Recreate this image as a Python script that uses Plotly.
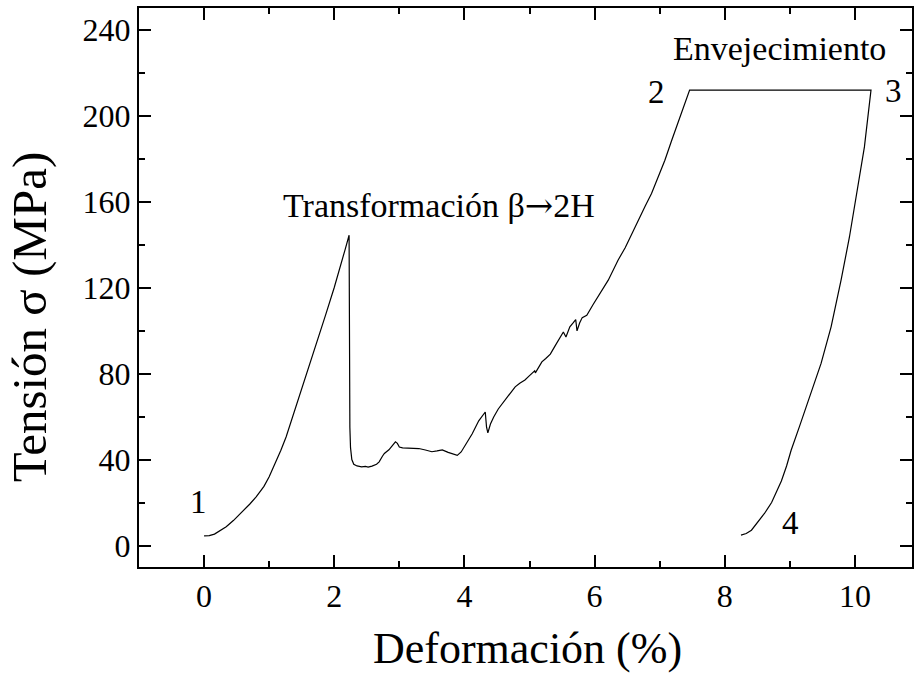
import plotly.graph_objects as go

# Strain (%) and stress (MPa)
strain = [0.00, 0.08, 0.16, 0.25, 0.34, 0.45, 0.59, 0.70, 0.80, 0.92, 1.00, 1.09, 1.18, 1.26,
          1.33, 1.41, 1.56, 1.70, 1.87, 2.00, 2.07, 2.17, 2.228,
          2.231, 2.234, 2.24, 2.25, 2.27, 2.30, 2.35, 2.42, 2.48, 2.52, 2.58, 2.65, 2.69, 2.74,
          2.77, 2.84, 2.90, 2.94, 2.97, 3.00, 3.05, 3.15, 3.30, 3.40, 3.50, 3.58, 3.66, 3.75,
          3.89, 3.95, 4.02, 4.12, 4.22, 4.32, 4.34, 4.36, 4.40, 4.45, 4.52, 4.58, 4.65, 4.71,
          4.78, 4.85, 4.93, 5.00, 5.08, 5.09, 5.14, 5.19, 5.25, 5.32, 5.40, 5.46, 5.52, 5.56,
          5.62, 5.67, 5.71, 5.73, 5.77, 5.81, 5.88, 5.98, 6.10, 6.21, 6.36, 6.47, 6.59, 6.67,
          6.78, 6.875, 6.98, 7.08, 7.18, 7.28, 7.37, 7.46,
          8.50, 10.247,
          10.146, 10.04, 9.916, 9.787, 9.634, 9.48, 9.275, 9.15, 9.02, 8.95, 8.87, 8.80, 8.72,
          8.61, 8.50, 8.41, 8.33, 8.25]
stress = [4.5, 4.6, 5.3, 6.8, 8.7, 11.6, 15.6, 19.2, 22.6, 27.5, 32.0, 38.0, 44.3, 50.5,
          57.0, 64.5, 78.0, 91.0, 107.5, 120.0, 127.0, 138.0, 144.3,
          120.0, 80.0, 55.0, 45.5, 40.0, 37.8, 37.0, 36.6, 36.8, 36.5, 36.9, 37.8, 38.9, 41.5,
          42.8, 44.5, 46.5, 48.2, 47.5, 45.8, 45.4, 45.2, 45.1, 44.4, 43.6, 44.0, 44.5, 43.3,
          41.9, 43.5, 46.8, 52.0, 58.0, 62.1, 55.0, 52.4, 56.5, 59.8, 63.5, 66.0, 68.8, 71.2,
          73.8, 75.5, 77.0, 79.0, 81.2, 80.3, 83.0, 85.4, 87.0, 89.0, 93.2, 96.5, 99.3, 97.0,
          101.7, 103.5, 105.1, 99.8, 103.5, 106.0, 107.1, 112.2, 118.0, 123.4, 132.7, 138.5, 146.0, 151.3,
          158.0, 163.7, 171.5, 179.2, 188.0, 196.3, 204.0, 211.8,
          211.8, 211.8,
          185.4, 165.2, 143.5, 123.4, 101.7, 84.7, 66.0, 55.5, 44.3, 37.0, 30.0, 25.0, 20.0,
          14.9, 10.5, 7.1, 5.6, 4.8]

x_ticks = [0, 2, 4, 6, 8, 10]
y_ticks = [0, 40, 80, 120, 160, 200, 240]

FONT = "Liberation Serif, Times New Roman, serif"
ARROW = "<span style='font-family:DejaVu Serif'>→</span>"

# text labels: (text, x, y, size)
labels = [
    ("Transformación β" + ARROW + "2H", 3.606, 158.5, 34),
    ("Envejecimiento", 8.84, 231.0, 34),
    ("1", -0.09, 20.4, 33),
    ("2", 6.95, 211.0, 33),
    ("3", 10.59, 211.3, 33),
    ("4", 9.01, 10.6, 33),
]

fig = go.Figure()
fig.add_trace(go.Scatter(x=strain, y=stress, mode="lines",
                         line=dict(color="black", width=1.2), showlegend=False,
                         hoverinfo="skip"))

for txt, xv, yv, sz in labels:
    fig.add_annotation(x=xv, y=yv, text=txt, showarrow=False, xanchor="center",
                       yanchor="middle", font=dict(family=FONT, size=sz, color="black"))

# axis titles
fig.add_annotation(xref="paper", yref="paper", x=0.503, y=-0.145, text="Deformación (%)",
                   showarrow=False, xanchor="center", yanchor="middle",
                   font=dict(family=FONT, size=44, color="black"))
fig.add_annotation(xref="paper", yref="paper", x=-0.142, y=0.447, text="Tensión σ (MPa)",
                   textangle=-90, showarrow=False, xanchor="center", yanchor="middle",
                   font=dict(family=FONT, size=49, color="black"))

axis_common = dict(showline=True, linewidth=2, linecolor="black", mirror="ticks",
                   ticks="inside", ticklen=12, tickwidth=2, tickcolor="black",
                   showgrid=False, zeroline=False,
                   tickfont=dict(family=FONT, size=32, color="black"))

fig.update_xaxes(range=[-1, 10.877], tickvals=x_ticks,
                 minor=dict(tickvals=[-1, 1, 3, 5, 7, 9], ticks="inside", ticklen=6,
                            tickwidth=2, tickcolor="black"),
                 **axis_common)
fig.update_yaxes(range=[-10, 250], tickvals=y_ticks,
                 minor=dict(tickvals=[20, 60, 100, 140, 180, 220], ticks="inside", ticklen=6,
                            tickwidth=2, tickcolor="black"),
                 **axis_common)

fig.update_layout(width=914, height=673, margin=dict(l=139, r=0, t=8, b=106),
                  plot_bgcolor="white", paper_bgcolor="white",
                  font=dict(family=FONT, color="black"))

fig.write_html("out.html")
